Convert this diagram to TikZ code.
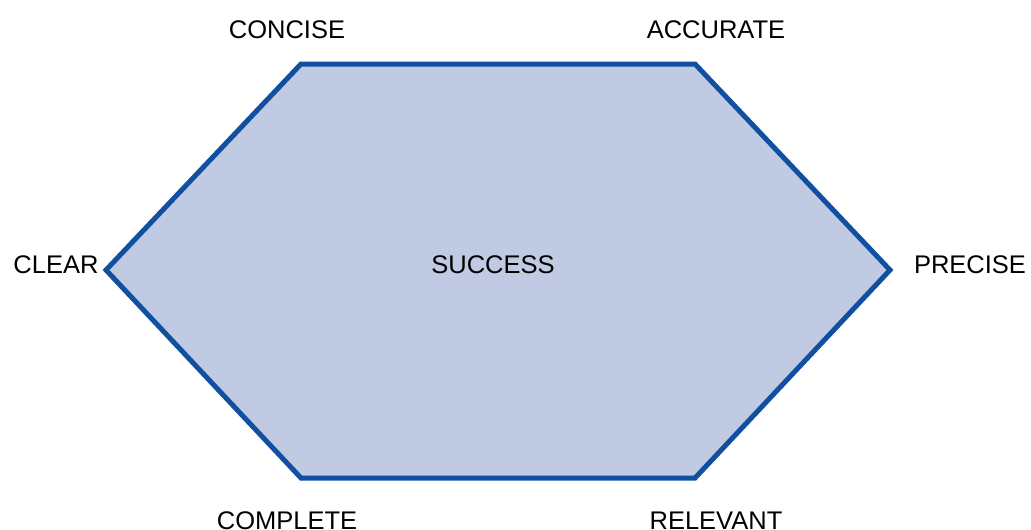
\documentclass[tikz,border=0pt]{standalone}
\usepackage{fontspec}
\setmainfont{Liberation Sans}
\definecolor{edgeblue}{HTML}{1150A0}
\definecolor{fillblue}{HTML}{C0CAE3}
\begin{document}
\begin{tikzpicture}[x=1pt,y=-1pt,
  lbl/.style={anchor=base,inner sep=0pt,font=\fontsize{25.5}{30}\selectfont},
  hexface/.style={draw=edgeblue,fill=fillblue,line width=5pt,line join=miter}]
\useasboundingbox (0,0) rectangle (1031,530);
% corners of the hexagon
\coordinate (tl) at (301,64);
\coordinate (tr) at (695,64);
\coordinate (r)  at (890,270);
\coordinate (br) at (695,478);
\coordinate (bl) at (301,478);
\coordinate (l)  at (106,270);
\draw[hexface] (tl) -- (tr) -- (r) -- (br) -- (bl) -- (l) -- cycle;
% labels
\node[lbl] (concise)  at (287,38)  {CONCISE};
\node[lbl] (accurate) at (716,38)  {ACCURATE};
\node[lbl] (clear)    at (56,273)  {CLEAR};
\node[lbl] (success)  at (493,273) {SUCCESS};
\node[lbl] (precise)  at (970,273) {PRECISE};
\node[lbl] (complete) at (287,529) {COMPLETE};
\node[lbl] (relevant) at (716,529) {RELEVANT};
\end{tikzpicture}
\end{document}
